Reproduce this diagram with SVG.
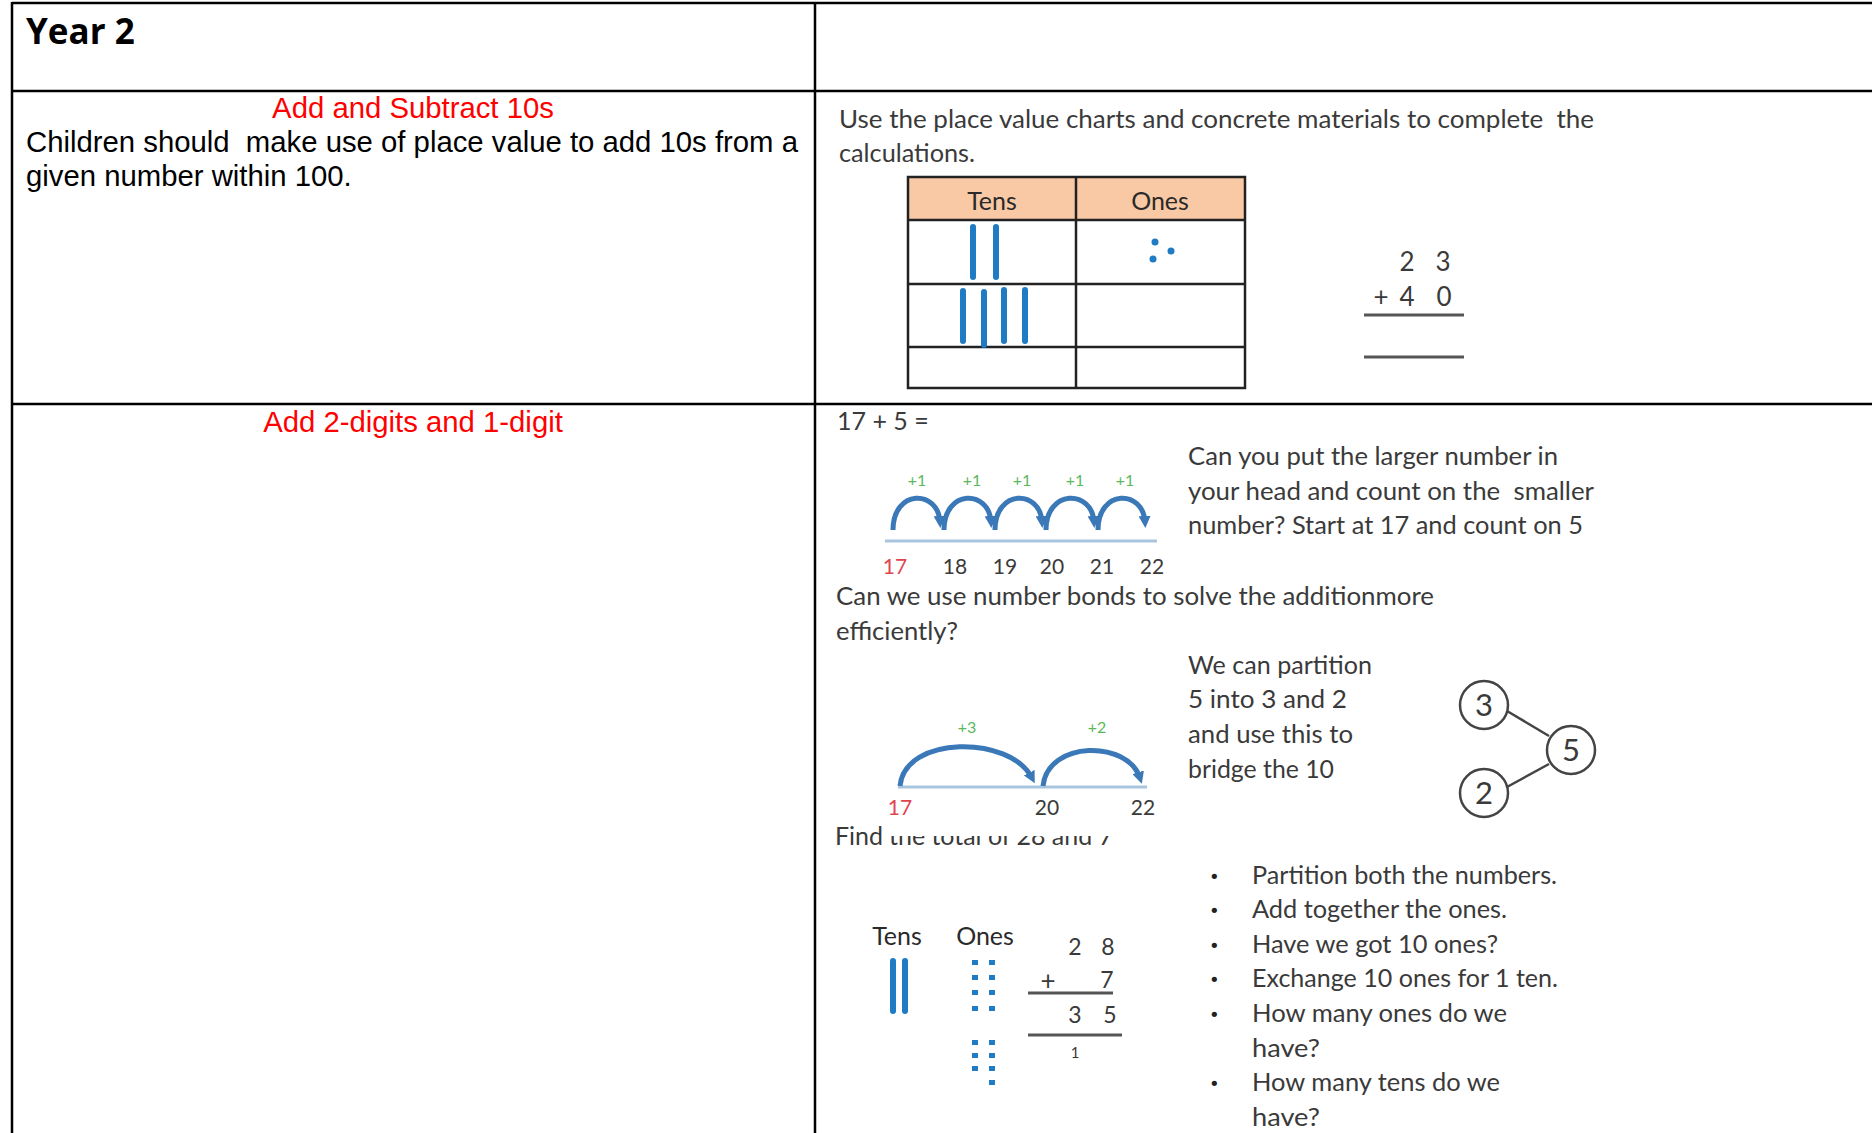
<svg xmlns="http://www.w3.org/2000/svg" width="1872" height="1133" viewBox="0 0 1872 1133">
<style>
.frame{stroke:#000;stroke-width:2.5;fill:none}
.bold{font-family:"Open Sans","DejaVu Sans",sans-serif;font-weight:700;fill:#000}
.arial{font-family:"Liberation Sans",Arial,sans-serif;font-size:29.3px;fill:#000}
.red{fill:#ff0000}
.t{font-family:Lato,"Open Sans",sans-serif;font-size:25px;fill:#3a3a3a}
.num{font-family:Lato,"Open Sans",sans-serif;font-size:21px;fill:#3a3a3a;text-anchor:middle}
.big{font-size:26px}
.mid{font-size:23px}
.small{font-size:15px}
.rnum{fill:#e0454f}
.grn{font-family:Lato,"Open Sans",sans-serif;font-size:16px;fill:#5cb85c;text-anchor:middle}
.tbl{stroke:#222;stroke-width:2.5;fill:none}
.rod{stroke:#1f7cc4;stroke-width:6;stroke-linecap:round}
.dot{fill:#1f7cc4}
.arc{stroke:#3a78b8;stroke-width:5;fill:none;marker-end:url(#ah)}
.nl{stroke:#a9c4de;stroke-width:3}
.uline{stroke:#555;stroke-width:3}
.bond{fill:#fff;stroke:#444;stroke-width:2.5}
.bondt{font-family:Lato,"Open Sans",sans-serif;font-size:31px;fill:#3a3a3a;text-anchor:middle}
.bul{font-family:"DejaVu Sans",sans-serif;font-size:18px;fill:#222}
.hd{fill:#2a2a2a;text-anchor:middle}
</style>
<defs>
<marker id="ah" viewBox="0 0 10 10" refX="5" refY="5" markerWidth="2.4" markerHeight="2.4" orient="auto" markerUnits="strokeWidth">
<path d="M0,0 L10,5 L0,10 z" fill="#3a78b8"/>
</marker>
<clipPath id="cutFind"><rect x="885" y="836" width="240" height="20"/></clipPath>
</defs>
<rect width="1872" height="1133" fill="#fff"/>

<g id="table-frame">
<line class="frame" x1="12" y1="3" x2="1872" y2="3"/>
<line class="frame" x1="12" y1="91" x2="1872" y2="91"/>
<line class="frame" x1="12" y1="404" x2="1872" y2="404"/>
<line class="frame" x1="12" y1="2" x2="12" y2="1133"/>
<line class="frame" x1="815" y1="2" x2="815" y2="1133"/>
</g>

<g id="header">
<text class="bold" x="26" y="44" font-size="35">Year 2</text>
</g>

<g id="row1-left">
<text class="arial red" x="413" y="118" text-anchor="middle">Add and Subtract 10s</text>
<text class="arial" x="26" y="152" xml:space="preserve">Children should  make use of place value to add 10s from a</text>
<text class="arial" x="26" y="186">given number within 100.</text>
</g>

<g id="row1-right">
<text class="t" x="839" y="128" textLength="755" lengthAdjust="spacingAndGlyphs" xml:space="preserve">Use the place value charts and concrete materials to complete  the</text>
<text class="t" x="839" y="162" textLength="136" lengthAdjust="spacingAndGlyphs">calculations.</text>
<g id="pv-table">
<rect x="908" y="177" width="337" height="43" fill="#f8c9a4"/>
<rect class="tbl" x="908" y="177" width="337" height="211"/>
<line class="tbl" x1="1076" y1="177" x2="1076" y2="388"/>
<line class="tbl" x1="908" y1="220" x2="1245" y2="220"/>
<line class="tbl" x1="908" y1="284" x2="1245" y2="284"/>
<line class="tbl" x1="908" y1="347" x2="1245" y2="347"/>
<text class="t hd" x="992" y="210">Tens</text>
<text class="t hd" x="1160" y="210">Ones</text>
<line class="rod" x1="973" y1="227" x2="973" y2="277"/>
<line class="rod" x1="996" y1="227" x2="996" y2="277"/>
<line class="rod" x1="963" y1="291" x2="963" y2="341"/>
<line class="rod" x1="984" y1="292" x2="984" y2="345"/>
<line class="rod" x1="1004" y1="290" x2="1004" y2="341"/>
<line class="rod" x1="1025" y1="290" x2="1025" y2="341"/>
<circle class="dot" cx="1155" cy="242" r="3.5"/>
<circle class="dot" cx="1171" cy="251" r="3.5"/>
<circle class="dot" cx="1153" cy="259" r="3.5"/>
</g>
<g id="calc-23-40">
<text class="num big" x="1407" y="271">2</text>
<text class="num big" x="1443" y="271">3</text>
<text class="num big" x="1381" y="306">+</text>
<text class="num big" x="1407" y="306">4</text>
<text class="num big" x="1444" y="306">0</text>
<line class="uline" x1="1364" y1="315" x2="1464" y2="315"/>
<line class="uline" x1="1364" y1="357" x2="1464" y2="357"/>
</g>
</g>

<g id="row2-left">
<text class="arial red" x="413" y="432" text-anchor="middle">Add 2-digits and 1-digit</text>
</g>

<g id="row2-right">
<text class="t" x="837" y="430">17 + 5 =</text>

<g id="numberline-ones">
<text class="grn" x="917" y="486">+1</text>
<text class="grn" x="972" y="486">+1</text>
<text class="grn" x="1022" y="486">+1</text>
<text class="grn" x="1075" y="486">+1</text>
<text class="grn" x="1125" y="486">+1</text>
<line class="nl" x1="885" y1="541" x2="1157" y2="541"/>
<path class="arc" d="M893,530 C893,489 938,489 940,522"/>
<path class="arc" d="M944,530 C944,489 989,489 991,522"/>
<path class="arc" d="M995,530 C995,489 1040,489 1042,522"/>
<path class="arc" d="M1046,530 C1046,489 1092,489 1094,522"/>
<path class="arc" d="M1098,530 C1098,489 1143,489 1145,522"/>
<text class="num rnum" x="895" y="574">17</text>
<text class="num" x="955" y="574">18</text>
<text class="num" x="1005" y="574">19</text>
<text class="num" x="1052" y="574">20</text>
<text class="num" x="1102" y="574">21</text>
<text class="num" x="1152" y="574">22</text>
</g>

<text class="t" x="1188" y="465" textLength="370" lengthAdjust="spacingAndGlyphs">Can you put the larger number in</text>
<text class="t" x="1188" y="500" textLength="406" lengthAdjust="spacingAndGlyphs" xml:space="preserve">your head and count on the  smaller</text>
<text class="t" x="1188" y="534" textLength="395" lengthAdjust="spacingAndGlyphs">number? Start at 17 and count on 5</text>

<text class="t" x="836" y="605" textLength="598" lengthAdjust="spacingAndGlyphs">Can we use number bonds to solve the additionmore</text>
<text class="t" x="836" y="640" textLength="122" lengthAdjust="spacingAndGlyphs">efficiently?</text>

<text class="t" x="1188" y="674" textLength="184" lengthAdjust="spacingAndGlyphs">We can partition</text>
<text class="t" x="1188" y="708" textLength="159" lengthAdjust="spacingAndGlyphs">5 into 3 and 2</text>
<text class="t" x="1188" y="743" textLength="165" lengthAdjust="spacingAndGlyphs">and use this to</text>
<text class="t" x="1188" y="778" textLength="146" lengthAdjust="spacingAndGlyphs">bridge the 10</text>

<g id="numberline-bridge">
<text class="grn" x="967" y="733">+3</text>
<text class="grn" x="1097" y="733">+2</text>
<line class="nl" x1="898" y1="787" x2="1147" y2="787"/>
<path class="arc" d="M900,786 C905,735 1010,735 1032,778"/>
<path class="arc" d="M1043,786 C1048,740 1128,740 1140,778"/>
<text class="num rnum" x="900" y="815">17</text>
<text class="num" x="1047" y="815">20</text>
<text class="num" x="1143" y="815">22</text>
</g>

<g id="bond-3"><circle class="bond" cx="1484" cy="705" r="24"/><text class="bondt" x="1484" y="716">3</text></g>
<g id="bond-5"><circle class="bond" cx="1571" cy="750" r="24"/><text class="bondt" x="1571" y="761">5</text></g>
<g id="bond-2"><circle class="bond" cx="1484" cy="793" r="24"/><text class="bondt" x="1484" y="804">2</text></g>

<text class="t" x="835" y="845">Find</text>
<text class="t" x="889" y="845" textLength="224" lengthAdjust="spacingAndGlyphs" clip-path="url(#cutFind)">the total of 28 and 7</text>

<g id="tens-ones">
<text class="t hd" x="897" y="945">Tens</text>
<text class="t hd" x="985" y="945">Ones</text>
<line class="rod" x1="893" y1="961" x2="893" y2="1011"/>
<line class="rod" x1="905" y1="961" x2="905" y2="1011"/>
<g class="dot">
<rect x="972" y="960" width="6" height="5"/><rect x="989" y="960" width="6" height="5"/>
<rect x="972" y="975" width="6" height="5"/><rect x="989" y="975" width="6" height="5"/>
<rect x="972" y="990" width="6" height="5"/><rect x="989" y="990" width="6" height="5"/>
<rect x="972" y="1006" width="6" height="5"/><rect x="989" y="1006" width="6" height="5"/>
<rect x="972" y="1040" width="6" height="5"/><rect x="989" y="1040" width="6" height="5"/>
<rect x="972" y="1053" width="6" height="5"/><rect x="989" y="1053" width="6" height="5"/>
<rect x="972" y="1066" width="6" height="5"/><rect x="989" y="1066" width="6" height="5"/>
<rect x="989" y="1080" width="6" height="5"/>
</g>
</g>

<g id="calc-28-7">
<text class="num mid" x="1075" y="955">2</text>
<text class="num mid" x="1108" y="955">8</text>
<text class="num big" x="1048" y="990">+</text>
<text class="num mid" x="1107" y="988">7</text>
<line class="uline" x1="1028" y1="993" x2="1113" y2="993"/>
<text class="num mid" x="1075" y="1023">3</text>
<text class="num mid" x="1110" y="1023">5</text>
<line class="uline" x1="1028" y1="1035" x2="1122" y2="1035"/>
<text class="num small" x="1075" y="1058">1</text>
</g>

<g id="bullets">
<text class="bul" x="1209" y="883">•</text><text class="t" x="1252" y="884" textLength="305" lengthAdjust="spacingAndGlyphs">Partition both the numbers.</text>
<text class="bul" x="1209" y="917">•</text><text class="t" x="1252" y="918" textLength="255" lengthAdjust="spacingAndGlyphs">Add together the ones.</text>
<text class="bul" x="1209" y="952">•</text><text class="t" x="1252" y="953" textLength="246" lengthAdjust="spacingAndGlyphs">Have we got 10 ones?</text>
<text class="bul" x="1209" y="986">•</text><text class="t" x="1252" y="987" textLength="306" lengthAdjust="spacingAndGlyphs">Exchange 10 ones for 1 ten.</text>
<text class="bul" x="1209" y="1021">•</text><text class="t" x="1252" y="1022" textLength="255" lengthAdjust="spacingAndGlyphs">How many ones do we</text>
<text class="t" x="1252" y="1057" textLength="68" lengthAdjust="spacingAndGlyphs">have?</text>
<text class="bul" x="1209" y="1090">•</text><text class="t" x="1252" y="1091" textLength="248" lengthAdjust="spacingAndGlyphs">How many tens do we</text>
<text class="t" x="1252" y="1126" textLength="68" lengthAdjust="spacingAndGlyphs">have?</text>
</g>
</g>

<g id="connectors">
<line stroke="#444" stroke-width="2.5" x1="1507" y1="711" x2="1549" y2="736"/>
<line stroke="#444" stroke-width="2.5" x1="1507" y1="787" x2="1549" y2="764"/>
</g>
</svg>
